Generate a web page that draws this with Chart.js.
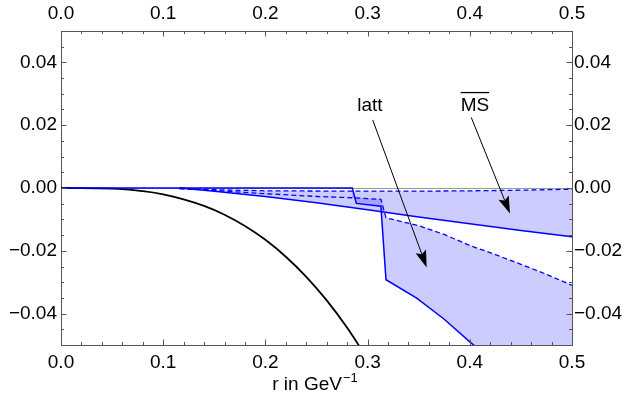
<!DOCTYPE html>
<html>
<head>
<meta charset="utf-8">
<script src="https://cdn.jsdelivr.net/npm/chart.js@4.4.1/dist/chart.umd.min.js"></script>
<style>
  html, body { margin: 0; padding: 0; background: #fff; }
  #wrap { width: 624px; height: 396px; }
</style>
</head>
<body>
<div id="wrap"><canvas id="chart" width="624" height="396"></canvas></div>
<script>
// r in GeV^-1, curve values
const rBlack = [0, 0.05, 0.08, 0.1, 0.12, 0.14, 0.16, 0.18, 0.2, 0.22, 0.24, 0.26, 0.28, 0.3];
const vBlack = [0, -0.0002, -0.001, -0.002, -0.0036, -0.0057, -0.0085, -0.0121, -0.0165, -0.0219, -0.0283, -0.0358, -0.0445, -0.0545];

// lattice band: solid and dashed edges (solid edge runs on below the frame)
const rLattSolid = [0, 0.285, 0.289, 0.313, 0.318, 0.348, 0.375, 0.4, 0.45, 0.5];
const vLattSolid = [0, 0, -0.0049, -0.0058, -0.0292, -0.0351, -0.0418, -0.049, -0.062, -0.076];
const rLattDash = [0.116, 0.15, 0.2, 0.25, 0.285, 0.313, 0.318, 0.35, 0.375, 0.4, 0.425, 0.45, 0.475, 0.5];
const vLattDash = [0, -0.0008, -0.0018, -0.0027, -0.0031, -0.0036, -0.0095, -0.012, -0.0148, -0.0183, -0.0212, -0.0243, -0.0275, -0.031];

// MSbar band: solid and dashed edges
const rMsSolid = [0.116, 0.15, 0.2, 0.25, 0.3, 0.35, 0.4, 0.45, 0.5];
const vMsSolid = [0, -0.001, -0.0027, -0.0047, -0.0069, -0.0092, -0.0114, -0.0135, -0.0155];
const rMsDash = [0.116, 0.2, 0.285, 0.35, 0.4, 0.45, 0.5];
const vMsDash = [-0.0003, -0.0009, -0.001, -0.001, -0.0009, -0.0007, -0.0004];

const xTickValues = [0, 0.1, 0.2, 0.3, 0.4, 0.5];
const yTickValues = [-0.04, -0.02, 0, 0.02, 0.04];

// arrow annotations in data units: label centre, tail, head
const arrowLabels = ['latt', 'MS'];
const arrowLabelAt = [[0.3023, 0.0261], [0.405, 0.0263]];
const arrowTail = [[0.305, 0.0217], [0.4014, 0.0225]];
const arrowHead = [[0.3578, -0.0253], [0.4393, -0.0081]];

const FONT = '"Liberation Sans", Arial, sans-serif';
const BLUE = '#0000ff';
const BAND = 'rgba(0, 0, 255, 0.2)';
const FRAME = '#555';

const pts = (rs, vs) => rs.map((r, i) => ({ x: r, y: vs[i] }));

// closed outline: upper edge left to right, lower edge back
function bandShape(rUp, vUp, rLo, vLo, rFrom) {
    const up = pts(rUp, vUp).filter(p => p.x >= rFrom);
    const lo = pts(rLo, vLo).filter(p => p.x >= rFrom).reverse();
    return up.concat(lo);
}

const fmtY = v => {
    const s = Math.abs(v).toFixed(2);
    return v < -1e-9 ? '\u2212' + s : s;
};

function lineSet(data, color, width, dash, smooth) {
    return {
        data, borderColor: color, borderWidth: width, borderDash: dash || [],
        pointRadius: 0, fill: false, order: 0,
        tension: smooth ? 0.4 : 0
    };
}

function bandSet(data) {
    return {
        data, borderWidth: 0, borderColor: 'rgba(0,0,0,0)', backgroundColor: BAND,
        pointRadius: 0, fill: 'shape', order: 1, tension: 0
    };
}

const framePlugin = {
    id: 'frame',
    beforeDatasetsDraw(chart) {
        const { ctx, chartArea: a, scales: { y } } = chart;
        const py = Math.round(y.getPixelForValue(0)) + 0.5;
        ctx.save();
        ctx.strokeStyle = '#999';
        ctx.lineWidth = 1;
        ctx.beginPath();
        ctx.moveTo(a.left, py);
        ctx.lineTo(a.right, py);
        ctx.stroke();
        ctx.restore();
    },
    afterDatasetsDraw(chart) {
        const { ctx, chartArea: a, scales: { x, y } } = chart;
        ctx.save();

        // inward ticks on all four sides
        ctx.strokeStyle = FRAME;
        ctx.lineWidth = 1;
        ctx.beginPath();
        for (let i = 0; i <= 25; i++) {
            const v = i * 0.02;
            const len = i % 5 === 0 ? 5.5 : 3;
            const px = Math.round(x.getPixelForValue(v)) + 0.5;
            ctx.moveTo(px, a.bottom); ctx.lineTo(px, a.bottom - len);
            ctx.moveTo(px, a.top); ctx.lineTo(px, a.top + len);
        }
        for (let i = -10; i <= 10; i++) {
            const v = i * 0.005;
            const len = i % 4 === 0 ? 5.5 : 3;
            const py = Math.round(y.getPixelForValue(v)) + 0.5;
            ctx.moveTo(a.left, py); ctx.lineTo(a.left + len, py);
            ctx.moveTo(a.right, py); ctx.lineTo(a.right - len, py);
        }
        ctx.stroke();

        // arrows with labels
        ctx.fillStyle = '#000';
        ctx.strokeStyle = '#000';
        ctx.font = '19px ' + FONT;
        ctx.textAlign = 'center';
        ctx.textBaseline = 'middle';
        arrowLabels.forEach((txt, i) => {
            const lx = x.getPixelForValue(arrowLabelAt[i][0]);
            const ly = y.getPixelForValue(arrowLabelAt[i][1]);
            ctx.fillText(txt, lx, ly);
            if (txt === 'MS') {
                const w = ctx.measureText(txt).width;
                ctx.fillRect(lx - w / 2, ly - 13.5, w, 1.3);
            }
            const x1 = x.getPixelForValue(arrowTail[i][0]);
            const y1 = y.getPixelForValue(arrowTail[i][1]);
            const x2 = x.getPixelForValue(arrowHead[i][0]);
            const y2 = y.getPixelForValue(arrowHead[i][1]);
            const d = Math.hypot(x2 - x1, y2 - y1);
            const ux = (x2 - x1) / d, uy = (y2 - y1) / d;
            const len = 17, half = 5.5, notch = 3;
            const bx = x2 - ux * len, by = y2 - uy * len;
            const nx = x2 - ux * (len - notch), ny = y2 - uy * (len - notch);
            ctx.lineWidth = 1;
            ctx.beginPath();
            ctx.moveTo(x1, y1);
            ctx.lineTo(nx, ny);
            ctx.stroke();
            ctx.beginPath();
            ctx.moveTo(x2, y2);
            ctx.lineTo(bx - uy * half, by + ux * half);
            ctx.lineTo(nx, ny);
            ctx.lineTo(bx + uy * half, by - ux * half);
            ctx.closePath();
            ctx.fill();
        });

        // axis title with superscript
        const cx = (a.left + a.right) / 2 - 2;
        const base = 390;
        ctx.textAlign = 'left';
        ctx.textBaseline = 'alphabetic';
        ctx.font = '19px ' + FONT;
        const main = 'r in GeV';
        const wMain = ctx.measureText(main).width;
        ctx.font = '13px ' + FONT;
        const sup = '\u22121';
        const wSup = ctx.measureText(sup).width;
        const x0 = cx - (wMain + wSup) / 2;
        ctx.font = '19px ' + FONT;
        ctx.fillText(main, x0, base);
        ctx.font = '13px ' + FONT;
        ctx.fillText(sup, x0 + wMain + 1, base - 8);

        ctx.restore();
    }
};

function xAxis(position, size, padding) {
    return {
        type: 'linear', position, min: 0, max: 0.5,
        afterBuildTicks: s => { s.ticks = xTickValues.map(v => ({ value: v })); },
        afterFit: s => { s.height = size; },
        grid: { display: false, drawTicks: false },
        border: { display: true, color: FRAME, width: 1 },
        ticks: {
            callback: v => v.toFixed(1), padding, autoSkip: false, maxRotation: 0,
            color: '#000', font: { family: FONT, size: 19 }
        }
    };
}

function yAxis(position, size, padding) {
    return {
        type: 'linear', position, min: -0.05, max: 0.05,
        afterBuildTicks: s => { s.ticks = yTickValues.map(v => ({ value: v })); },
        afterFit: s => { s.width = size; },
        grid: { display: false, drawTicks: false },
        border: { display: true, color: FRAME, width: 1 },
        ticks: {
            callback: v => fmtY(v), padding, autoSkip: false,
            color: '#000', font: { family: FONT, size: 19 }
        }
    };
}

new Chart(document.getElementById('chart'), {
    type: 'line',
    data: {
        datasets: [
            bandSet(bandShape(rMsDash, vMsDash, rMsSolid, vMsSolid, 0)),
            bandSet(bandShape(rLattDash, vLattDash, rLattSolid, vLattSolid, 0.285)),
            lineSet(pts(rMsDash, vMsDash), BLUE, 1.3, [5, 3]),
            lineSet(pts(rLattDash, vLattDash), BLUE, 1.3, [5, 3]),
            lineSet(pts(rMsSolid, vMsSolid), BLUE, 1.5),
            lineSet(pts(rLattSolid, vLattSolid), BLUE, 1.5),
            lineSet(pts(rBlack, vBlack), '#000', 1.8, null, true)
        ]
    },
    options: {
        responsive: false,
        animation: false,
        layout: { padding: 0 },
        plugins: { legend: { display: false }, tooltip: { enabled: false } },
        scales: {
            x: xAxis('bottom', 51, 6),
            x2: xAxis('top', 31, 6),
            y: yAxis('left', 61, 4),
            y2: yAxis('right', 52, 2)
        }
    },
    plugins: [framePlugin]
});
</script>
</body>
</html>
